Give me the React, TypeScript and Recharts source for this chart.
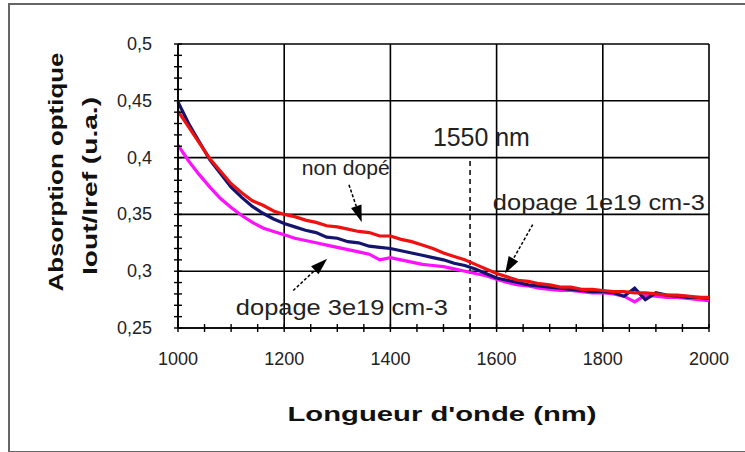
import React from 'react';
import {
  CartesianGrid,
  Line,
  LineChart,
  ReferenceDot,
  ReferenceLine,
  XAxis,
  YAxis,
} from 'recharts';

// wavelength grid (nm)
const wavelengths = [
  1000, 1020, 1040, 1060, 1080, 1100, 1120, 1140, 1160, 1180,
  1200, 1220, 1240, 1260, 1280, 1300, 1320, 1340, 1360, 1380,
  1400, 1420, 1440, 1460, 1480, 1500, 1520, 1540, 1560, 1580,
  1600, 1620, 1640, 1660, 1680, 1700, 1720, 1740, 1760, 1780,
  1800, 1820, 1840, 1860, 1880, 1900, 1920, 1940, 1960, 1980, 2000,
];

// non dopé (red)
const nonDope = [
  0.441, 0.427, 0.413, 0.399, 0.388, 0.377, 0.369, 0.362, 0.358, 0.353,
  0.350, 0.348, 0.345, 0.343, 0.340, 0.339, 0.337, 0.335, 0.334, 0.331,
  0.331, 0.328, 0.326, 0.323, 0.320, 0.316, 0.313, 0.310, 0.306, 0.302,
  0.298, 0.295, 0.292, 0.291, 0.289, 0.288, 0.286, 0.286, 0.284, 0.284,
  0.283, 0.282, 0.282, 0.281, 0.281, 0.280, 0.279, 0.279, 0.278, 0.277, 0.277,
];

// dopage 1e19 cm-3 (navy)
const dopage1e19 = [
  0.449, 0.430, 0.414, 0.398, 0.386, 0.374, 0.365, 0.357, 0.351, 0.346,
  0.342, 0.339, 0.336, 0.334, 0.330, 0.329, 0.326, 0.325, 0.322, 0.321,
  0.320, 0.318, 0.316, 0.314, 0.312, 0.310, 0.307, 0.305, 0.302, 0.298,
  0.294, 0.292, 0.290, 0.288, 0.287, 0.286, 0.285, 0.284, 0.283, 0.282,
  0.282, 0.281, 0.278, 0.285, 0.275, 0.281, 0.279, 0.278, 0.277, 0.277, 0.276,
];

// dopage 3e19 cm-3 (magenta)
const dopage3e19 = [
  0.411, 0.397, 0.385, 0.374, 0.364, 0.356, 0.349, 0.343, 0.338, 0.335,
  0.332, 0.329, 0.327, 0.325, 0.323, 0.321, 0.319, 0.317, 0.315, 0.310,
  0.312, 0.310, 0.308, 0.306, 0.305, 0.304, 0.302, 0.300, 0.298, 0.296,
  0.293, 0.290, 0.288, 0.287, 0.285, 0.284, 0.283, 0.283, 0.282, 0.281,
  0.281, 0.280, 0.278, 0.273, 0.279, 0.278, 0.277, 0.277, 0.276, 0.275, 0.274,
];

const xMajorTicks = [1000, 1200, 1400, 1600, 1800, 2000];
const xMinorTicks = [
  1000, 1050, 1100, 1150, 1200, 1250, 1300, 1350, 1400, 1450, 1500,
  1550, 1600, 1650, 1700, 1750, 1800, 1850, 1900, 1950, 2000,
];
const yMajorTicks = [0.25, 0.3, 0.35, 0.4, 0.45, 0.5];
const yMinorTicks = [
  0.25, 0.26, 0.27, 0.28, 0.29, 0.3, 0.31, 0.32, 0.33, 0.34, 0.35, 0.36, 0.37,
  0.38, 0.39, 0.4, 0.41, 0.42, 0.43, 0.44, 0.45, 0.46, 0.47, 0.48, 0.49, 0.5,
];

const notes = [
  { text: '1550 nm', x: 1480, y: 0.4102, len: 97, size: 25 },
  { text: 'non dopé', x: 1233, y: 0.3847, len: 88, size: 21 },
  { text: 'dopage 1e19 cm-3', x: 1593, y: 0.3539, len: 212, size: 22 },
  { text: 'dopage 3e19 cm-3', x: 1109, y: 0.2615, len: 212, size: 22 },
];

const arrows = [
  { from: { x: 1322, y: 0.376 }, to: { x: 1346, y: 0.343 } },
  { from: { x: 1217, y: 0.283 }, to: { x: 1281, y: 0.311 } },
  { from: { x: 1668, y: 0.341 }, to: { x: 1616, y: 0.298 } },
];

const data = wavelengths.map((w, i) => ({
  w,
  red: nonDope[i],
  blue: dopage1e19[i],
  magenta: dopage3e19[i],
}));

const tickFont = { fontFamily: '"Liberation Sans", Arial, sans-serif', fontSize: 18, fill: '#222' };
const titleFont = { fontFamily: '"Liberation Sans", Arial, sans-serif', fontSize: 21, fontWeight: 700, fill: '#111' };

function XTick(props: any) {
  const { x, y, payload } = props;
  const axisY = y - 22;
  const major = xMajorTicks.includes(payload.value);
  return (
    <g>
      <line x1={x} x2={x} y1={axisY - 4} y2={axisY + 4} stroke="#000" strokeWidth={1.4} />
      {major && (
        <text x={x} y={axisY + 31} textAnchor="middle" dominantBaseline="central" {...tickFont}>
          {payload.value}
        </text>
      )}
    </g>
  );
}

function YTick(props: any) {
  const { x, y, payload } = props;
  const axisX = x + 26;
  const major = yMajorTicks.some((t) => Math.abs(t - payload.value) < 1e-6);
  return (
    <g>
      <line x1={axisX - 4} x2={axisX + 4} y1={y} y2={y} stroke="#000" strokeWidth={1.4} />
      {major && (
        <text x={x} y={y} textAnchor="end" dominantBaseline="central" {...tickFont}>
          {String(payload.value).replace('.', ',')}
        </text>
      )}
    </g>
  );
}

function Arrow(props: any) {
  const { x1, y1, x2, y2 } = props;
  const dx = x2 - x1;
  const dy = y2 - y1;
  const len = Math.sqrt(dx * dx + dy * dy) || 1;
  const ux = dx / len;
  const uy = dy / len;
  const head = 17;
  const half = 5.5;
  const bx = x2 - ux * head;
  const by = y2 - uy * head;
  const pts = `${x2},${y2} ${bx - uy * half},${by + ux * half} ${bx + uy * half},${by - ux * half}`;
  return (
    <g>
      <line x1={x1} y1={y1} x2={bx} y2={by} stroke="#000" strokeWidth={1.5} strokeDasharray="3 2" />
      <polygon points={pts} fill="#000" />
    </g>
  );
}

export default function App() {
  return (
    <div style={{ position: 'absolute', left: 0, top: 0, width: 745, height: 452, background: '#fff' }}>
      <div
        style={{
          position: 'absolute',
          left: 8,
          top: 3,
          width: 745,
          height: 446,
          borderLeft: '2px solid #666',
          borderTop: '2px solid #666',
          borderBottom: '2px solid #666',
        }}
      />
      <LineChart
        width={745}
        height={452}
        data={data}
        margin={{ top: 44, right: 36, bottom: 84, left: 118 }}
      >
        <CartesianGrid
          stroke="#000"
          strokeWidth={1.6}
          horizontalValues={yMajorTicks}
          verticalValues={xMajorTicks}
        />
        <XAxis
          dataKey="w"
          type="number"
          domain={[1000, 2000]}
          ticks={xMinorTicks}
          interval={0}
          height={40}
          tickSize={0}
          tickMargin={22}
          tickLine={false}
          axisLine={{ stroke: '#000', strokeWidth: 1.6 }}
          tick={<XTick />}
        />
        <YAxis
          type="number"
          domain={[0.25, 0.5]}
          ticks={yMinorTicks}
          interval={0}
          width={60}
          tickSize={0}
          tickMargin={26}
          tickLine={false}
          axisLine={{ stroke: '#000', strokeWidth: 1.6 }}
          tick={<YTick />}
        />
        <ReferenceLine
          segment={[{ x: 1550, y: 0.25 }, { x: 1550, y: 0.4 }]}
          stroke="#000"
          strokeWidth={1.5}
          strokeDasharray="5 4"
        />
        <Line type="linear" dataKey="magenta" stroke="#ff10ff" strokeWidth={3.2} dot={false} isAnimationActive={false} />
        <Line type="linear" dataKey="blue" stroke="#14146e" strokeWidth={3.2} dot={false} isAnimationActive={false} />
        <Line type="linear" dataKey="red" stroke="#f01010" strokeWidth={3.2} dot={false} isAnimationActive={false} />
        {arrows.map((a, i) => (
          <ReferenceLine key={`arrow-${i}`} segment={[a.from, a.to]} ifOverflow="visible" shape={(p: any) => <Arrow {...p} />} />
        ))}
        {notes.map((n) => (
          <ReferenceDot
            key={n.text}
            x={n.x}
            y={n.y}
            r={0}
            ifOverflow="visible"
            shape={(p: any) => (
              <text
                x={p.cx}
                y={p.cy}
                textLength={n.len}
                lengthAdjust="spacingAndGlyphs"
                fontFamily='"Liberation Sans", Arial, sans-serif'
                fontSize={n.size}
                fill="#222"
              >
                {n.text}
              </text>
            )}
          />
        ))}
      </LineChart>
      <svg
        width={745}
        height={452}
        style={{ position: 'absolute', left: 0, top: 0, pointerEvents: 'none' }}
      >
        <text
          transform="translate(55,172) rotate(-90)"
          textAnchor="middle"
          dominantBaseline="central"
          textLength={239}
          lengthAdjust="spacingAndGlyphs"
          {...titleFont}
        >
          Absorption optique
        </text>
        <text
          transform="translate(89,186) rotate(-90)"
          textAnchor="middle"
          dominantBaseline="central"
          textLength={178}
          lengthAdjust="spacingAndGlyphs"
          {...titleFont}
        >
          Iout/Iref (u.a.)
        </text>
        <text
          x={442}
          y={413}
          textAnchor="middle"
          dominantBaseline="central"
          textLength={309}
          lengthAdjust="spacingAndGlyphs"
          {...titleFont}
        >
          Longueur d'onde (nm)
        </text>
      </svg>
    </div>
  );
}
